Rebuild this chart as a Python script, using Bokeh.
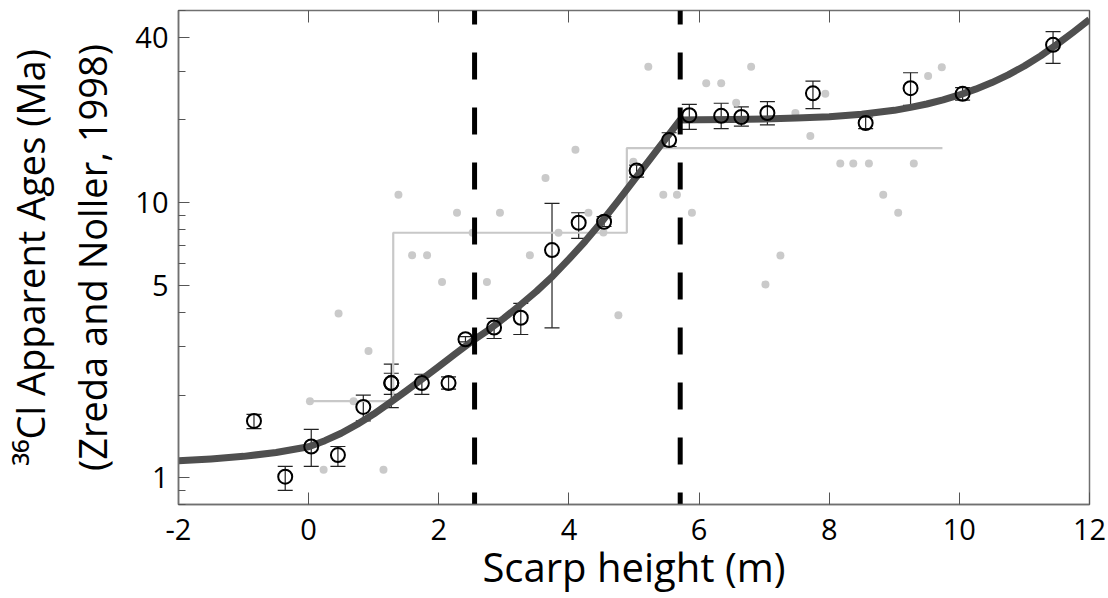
from bokeh.plotting import figure
from bokeh.models import (ColumnDataSource, Whisker, TeeHead, FixedTicker, LinearAxis,
                          Range1d, PrintfTickFormatter)
from bokeh.embed import file_html
from bokeh.resources import INLINE

# ---- data ----
sample_x = [-0.84, -0.36, 0.04, 0.45, 0.84, 1.27, 1.27, 1.74, 2.15, 2.41, 2.85, 3.26, 3.74,
            4.15, 4.54, 5.04, 5.54, 5.85, 6.34, 6.65, 7.05, 7.75, 8.56, 9.25, 10.05, 11.44]
sample_age = [1.61, 1.01, 1.30, 1.21, 1.81, 2.21, 2.21, 2.21, 2.21, 3.19, 3.52, 3.82, 6.73,
              8.46, 8.53, 13.1, 16.9, 20.8, 20.7, 20.5, 21.2, 25.0, 19.5, 26.1, 24.9, 37.5]
sample_lo = [1.51, 0.90, 1.10, 1.10, 1.61, 1.80, 2.01, 2.01, 2.10, 3.12, 3.21, 3.32, 3.51,
             7.42, 8.2, 12.4, 16.0, 18.5, 18.6, 19.0, 19.2, 22.0, 18.6, 22.6, 23.6, 32.1]
sample_hi = [1.70, 1.10, 1.50, 1.30, 2.00, 2.59, 2.40, 2.38, 2.33, 3.26, 3.80, 4.31, 9.95,
             9.20, 8.9, 13.7, 17.97, 22.8, 23.0, 22.3, 23.3, 27.7, 20.5, 29.7, 26.2, 41.9]

raw_x = [0.23, 1.15, 0.02, 0.69, 0.46, 0.92, 1.38, 1.59, 1.82, 2.05, 2.28, 2.52, 2.74, 2.94,
         3.40, 3.64, 3.84, 4.10, 4.30, 4.53, 4.76, 4.99, 5.22, 5.45, 5.66, 5.89, 6.11, 6.34,
         6.57, 6.80, 7.02, 7.25, 7.48, 7.71, 7.94, 8.17, 8.37, 8.61, 8.83, 9.06, 9.30, 9.52, 9.73]
raw_age = [1.07, 1.07, 1.9, 1.9, 3.96, 2.89, 10.7, 6.45, 6.45, 5.15, 9.2, 7.78, 5.15, 9.2,
           6.45, 12.3, 7.78, 15.6, 9.2, 7.8, 3.9, 14.1, 31.2, 10.7, 10.7, 9.2, 27.2, 27.2,
           23.1, 31.2, 5.05, 6.43, 21.2, 17.5, 24.9, 13.9, 13.9, 13.9, 10.7, 9.2, 13.9, 28.9, 31.1]

bin_edges = [0.02, 1.30, 4.89, 9.74]
bin_means = [1.9, 7.78, 15.8]

fit_x = [-2.0, -1.5, -1.0, -0.5, 0.0, 0.25, 0.5, 0.75, 1.0, 1.25, 1.5, 1.75, 2.0, 2.25,
         2.5, 2.75, 3.0, 3.25, 3.5, 3.75, 4.0, 4.25, 4.5, 4.75, 5.0, 5.25, 5.5, 5.71,
         6.0, 6.5, 7.0, 7.5, 8.0, 8.5, 9.0, 9.25, 9.5, 9.75, 10.0, 10.25, 10.5, 10.75,
         11.0, 11.25, 11.5, 11.75, 12.0]
fit_age = [1.153, 1.172, 1.197, 1.236, 1.297, 1.365, 1.452, 1.567, 1.706, 1.875, 2.070,
           2.291, 2.541, 2.818, 3.126, 3.428, 3.802, 4.246, 4.764, 5.408, 6.237, 7.244,
           8.511, 10.12, 12.08, 14.45, 17.26, 20.0,
           20.04, 20.09, 20.18, 20.32, 20.56, 20.99, 21.68, 22.23, 22.86, 23.66, 24.66,
           25.88, 27.35, 29.17, 31.41, 34.20, 37.67, 41.69, 46.34]

break_x = [2.55, 5.71]

x_ticks = [-2, 0, 2, 4, 6, 8, 10, 12]
y_ticks = [1, 5, 10, 40]
y_minor = [0.8, 0.9, 2, 3, 4, 6, 7, 8, 9, 20, 30, 50]

x_lo, x_hi = -2, 12
y_lo, y_hi = 0.8, 50

# ---- figure ----
p = figure(width=1108, height=598, y_axis_type="log",
           x_range=Range1d(x_lo, x_hi), y_range=Range1d(y_lo, y_hi),
           output_backend="svg", toolbar_location=None,
           min_border_left=175, min_border_right=19, min_border_top=10, min_border_bottom=94)
p.background_fill_color = "white"
p.border_fill_color = "white"
p.xgrid.grid_line_color = None
p.ygrid.grid_line_color = None
p.outline_line_color = "#707070"
p.outline_line_width = 1.5

FONT = "Open Sans"

# raw gray points
p.scatter(raw_x, raw_age, size=8, color="#cacaca", line_color=None)

# binned step line
step_x, step_y = [], []
for i, m in enumerate(bin_means):
    step_x += [bin_edges[i], bin_edges[i + 1]]
    step_y += [m, m]
p.line(step_x, step_y, color="#c8c8c8", line_width=2.2)

# fitted curve
p.line(fit_x, fit_age, color="#4f4f4f", line_width=7, line_join="round")

# dashed breaks
p.segment(x0=break_x, y0=[y_hi] * len(break_x), x1=break_x, y1=[y_lo] * len(break_x),
          color="black", line_width=5, line_dash="27 28", line_dash_offset=13)

# samples with error bars
src = ColumnDataSource(dict(x=sample_x, y=sample_age, lo=sample_lo, hi=sample_hi))
wh = Whisker(base="x", upper="hi", lower="lo", source=src, line_color="#222222", line_width=1.2,
             upper_head=TeeHead(size=15, line_color="#222222", line_width=1.2),
             lower_head=TeeHead(size=15, line_color="#222222", line_width=1.2))
p.add_layout(wh)
p.scatter("x", "y", source=src, marker="circle", size=14, fill_color=None,
          line_color="black", line_width=2)

# ---- axes ----
xa = p.xaxis[0]
xa.ticker = FixedTicker(ticks=x_ticks)
xa.formatter = PrintfTickFormatter(format="%d")
xa.axis_label = "Scarp height (m)"
ya = p.yaxis[0]
ya.ticker = FixedTicker(ticks=y_ticks, minor_ticks=y_minor)
ya.formatter = PrintfTickFormatter(format="%d")
ya.axis_label = "\u00b3\u2076Cl Apparent Ages (Ma)\n(Zreda and Noller, 1998)"

for ax in (xa, ya):
    ax.axis_line_color = "#707070"
    ax.axis_line_width = 1.5
    ax.major_tick_line_color = "#555555"
    ax.minor_tick_line_color = "#555555"
    ax.major_tick_out = 0
    ax.minor_tick_out = 0
    ax.major_label_text_font = FONT
    ax.major_label_text_font_size = "29px"
    ax.major_label_text_color = "black"
    ax.axis_label_text_font = FONT
    ax.axis_label_text_font_style = "normal"
    ax.axis_label_text_color = "black"

xa.axis_label_text_font_size = "40px"
ya.axis_label_text_font_size = "38px"
xa.major_tick_in = 12
xa.minor_tick_in = 0
xa.major_label_standoff = 14
xa.axis_label_standoff = -4
ya.major_tick_in = 11
ya.minor_tick_in = 7
ya.major_label_standoff = 10
ya.axis_label_standoff = 14

top = LinearAxis(ticker=FixedTicker(ticks=x_ticks), axis_line_color=None,
                 major_tick_in=12, major_tick_out=0, minor_tick_in=0, minor_tick_out=0,
                 major_tick_line_color="#555555",
                 major_label_overrides={t: "" for t in x_ticks},
                 major_label_standoff=0)
p.add_layout(top, "above")

open("out.html", "w").write(file_html(p, INLINE))
